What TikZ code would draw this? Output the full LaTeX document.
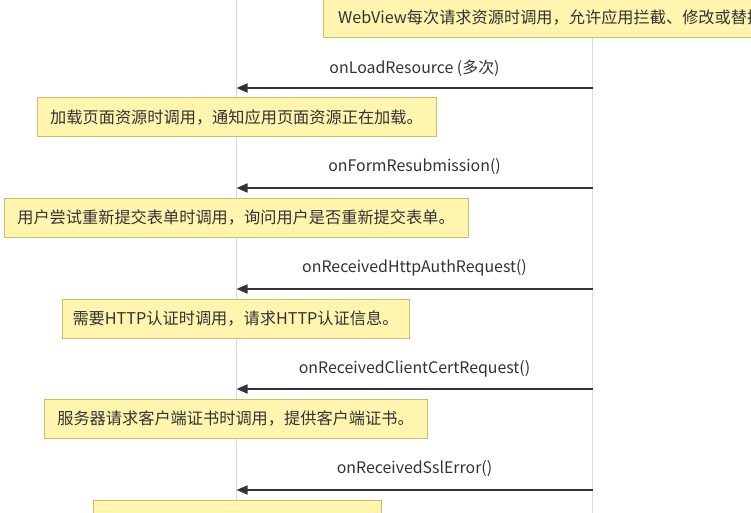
\documentclass[tikz,border=0pt]{standalone}
\usepackage{fontspec}
\setmainfont{Noto Sans CJK SC}
\usetikzlibrary{arrows.meta}
\definecolor{notefill}{RGB}{255,245,175}
\definecolor{notedraw}{RGB}{200,194,100}
\definecolor{lifecol}{RGB}{218,216,240}
\definecolor{msgcol}{RGB}{51,51,51}
\tikzset{
  notebox/.style={draw=notedraw, fill=notefill, line width=1pt, minimum height=39pt,
    inner sep=0pt, text=msgcol, font=\fontsize{16.2}{19}\selectfont},
  notetext/.style={text=msgcol, inner sep=0pt, font=\fontsize{16.2}{19}\selectfont},
  msglabel/.style={text=msgcol, inner sep=0pt, font=\fontsize{15.9}{19}\selectfont},
  msgarrow/.style={draw=msgcol, line width=1.6pt, -{Triangle[length=11pt,width=9pt]}},
  lifeline/.style={draw=lifecol, line width=1.2pt}
}
\begin{document}
\begin{tikzpicture}[x=1pt,y=-1pt]
\useasboundingbox (0,0) rectangle (751,513);
\clip (0,0) rectangle (751,513);
\fill[white] (0,0) rectangle (751,513);
% lifelines
\coordinate (ltop) at (236.5,-5);
\coordinate (lbot) at (236.5,520);
\coordinate (rtop) at (592.5,-5);
\coordinate (rbot) at (592.5,520);
\draw[lifeline] (ltop) -- (lbot);
\draw[lifeline] (rtop) -- (rbot);
% top note
\node[notebox, minimum width=538pt, anchor=north west] (n0) at (323,-2) {};
\node[notetext, anchor=west] (t0) at (338,17.5) {WebView每次请求资源时调用，允许应用拦截、修改或替换资源请求。};
% message 1
\coordinate (r1) at (592.5,88);
\coordinate (l1) at (236.5,88);
\node[msglabel] (m1) at (414.5,68) {onLoadResource (多次)};
\draw[msgarrow] (r1) -- (l1);
\node[notebox, minimum width=399pt] (n1) at (236.5,117.5) {加载页面资源时调用，通知应用页面资源正在加载。};
% message 2
\coordinate (r2) at (592.5,188);
\coordinate (l2) at (236.5,188);
\node[msglabel] (m2) at (414.5,167) {onFormResubmission()};
\draw[msgarrow] (r2) -- (l2);
\node[notebox, minimum width=464pt] (n2) at (236,217.5) {用户尝试重新提交表单时调用，询问用户是否重新提交表单。};
% message 3
\coordinate (r3) at (592.5,289);
\coordinate (l3) at (236.5,289);
\node[msglabel] (m3) at (414.5,268) {onReceivedHttpAuthRequest()};
\draw[msgarrow] (r3) -- (l3);
\node[notebox, minimum width=347pt] (n3) at (235.5,318.5) {需要HTTP认证时调用，请求HTTP认证信息。};
% message 4
\coordinate (r4) at (592.5,389);
\coordinate (l4) at (236.5,389);
\node[msglabel] (m4) at (414.5,369) {onReceivedClientCertRequest()};
\draw[msgarrow] (r4) -- (l4);
\node[notebox, minimum width=383pt] (n4) at (235.5,418.5) {服务器请求客户端证书时调用，提供客户端证书。};
% message 5
\coordinate (r5) at (592.5,490);
\coordinate (l5) at (236.5,490);
\node[msglabel] (m5) at (414.5,469) {onReceivedSslError()};
\draw[msgarrow] (r5) -- (l5);
\node[notebox, minimum width=288pt] (n5) at (237,519.5) {};
\node[notetext] (t5) at (237,522) {发生SSL错误时调用，处理SSL错误。};
\end{tikzpicture}
\end{document}
